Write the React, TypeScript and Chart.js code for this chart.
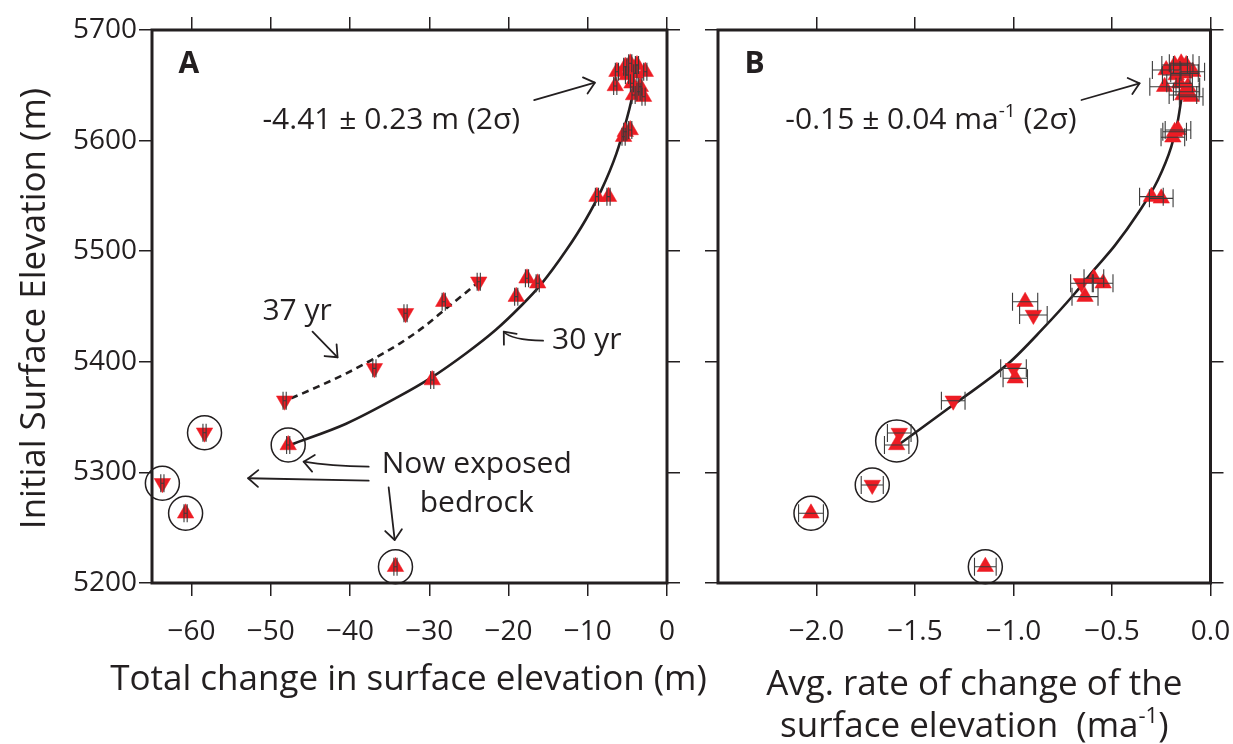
import React, { useEffect, useRef } from "react";
import { Chart, registerables } from "chart.js";

Chart.register(...registerables);

const FONT = "'Open Sans', 'Noto Sans', 'DejaVu Sans', sans-serif";
const INK = "#231F20";
const RED = "#ED1C24";
const BAR = "#3a3a3a";

// ---------- shared y axis ----------
const Y_MIN = 5200;
const Y_MAX = 5700;
const Y_TICKS = [5200, 5300, 5400, 5500, 5600, 5700];
const Y_TICK_LABELS = ["5200", "5300", "5400", "5500", "5600", "5700"];

// ---------- panel A: total change (m) ----------
const A_X_MIN = -65;
const A_X_MAX = 0;
const A_X_TICKS = [-60, -50, -40, -30, -20, -10, 0];
const A_X_TICK_LABELS = ["\u221260", "\u221250", "\u221240", "\u221230", "\u221220", "\u221210", "0"];

// 30 yr interval points (up triangles)
const A_UP_X = [-17.67, -16.32, -19.03, -28.18, -29.63, -47.81, -60.76, -34.27,
  -6.32, -6.53, -5.27, -4.64, -3.79, -4.0, -2.74, -5.05, -4.42, -3.37, -4.22, -2.96, -3.59,
  -5.27, -4.64, -5.48, -8.84, -7.38];
const A_UP_Y = [5475.5, 5471.0, 5458.9, 5454.3, 5383.5, 5324.8, 5263.0, 5214.7,
  5662.3, 5649.4, 5666.8, 5669.9, 5668.4, 5660.8, 5662.3, 5659.3, 5651.8, 5648.7, 5641.2, 5639.7, 5644.2,
  5608.0, 5609.6, 5603.5, 5549.3, 5549.3];
const A_UP_ERR = [0.2, 0.2, 0.2, 0.2, 0.2, 0.2, 0.2, 0.2,
  0.2, 0.2, 0.2, 0.2, 0.2, 0.2, 0.2, 0.2, 0.2, 0.2, 0.2, 0.2, 0.2,
  0.2, 0.2, 0.2, 0.2, 0.2];

// 37 yr interval points (down triangles)
const A_DOWN_X = [-23.76, -33.0, -36.93, -48.26, -58.37, -63.69];
const A_DOWN_Y = [5472.4, 5443.9, 5394.1, 5364.8, 5335.9, 5290.2];
const A_DOWN_ERR = [0.2, 0.2, 0.2, 0.2, 0.2, 0.2];

// bedrock circles
const A_CIRCLE_X = [-47.81, -58.37, -63.69, -60.76, -34.27];
const A_CIRCLE_Y = [5324.8, 5335.9, 5290.2, 5263.0, 5214.7];
const A_CIRCLE_R = [17, 17, 17, 17, 17];

// fitted curves
const A_FIT30_X = [-47.5, -40.5, -34.0, -29.9, -25.3, -21.6, -18.5, -15.9, -12.7, -10.3, -8.3, -6.4, -5.1, -4.5, -4.1];
const A_FIT30_Y = [5325, 5344, 5368, 5385, 5408, 5429, 5450, 5470, 5501, 5528, 5555, 5588, 5619, 5636, 5650];
const A_FIT37_X = [-47.44, -44.06, -40.46, -37.3, -33.69, -30.53, -27.83, -25.57, -23.99];
const A_FIT37_Y = [5367, 5377.5, 5389.6, 5401.6, 5416.7, 5432.5, 5448.5, 5461.5, 5471];

// ---------- panel B: average rate (m/a) ----------
const B_X_MIN = -2.5;
const B_X_MAX = 0;
const B_X_TICKS = [-2.0, -1.5, -1.0, -0.5, 0.0];
const B_X_TICK_LABELS = ["\u22122.0", "\u22121.5", "\u22121.0", "\u22120.5", "0.0"];

const B_UP_X = [-0.592, -0.545, -0.637, -0.941, -0.991, -1.593, -2.028, -1.143,
  -0.225, -0.233, -0.182, -0.149, -0.123, -0.132, -0.090, -0.174, -0.157, -0.115, -0.140, -0.098, -0.123,
  -0.182, -0.165, -0.191, -0.300, -0.250];
const B_UP_Y = [5475.5, 5471.0, 5458.9, 5454.3, 5385.1, 5324.8, 5263.0, 5214.7,
  5663.8, 5648.7, 5668.4, 5669.9, 5668.4, 5660.8, 5662.3, 5659.3, 5651.8, 5648.7, 5641.2, 5639.7, 5644.2,
  5608.0, 5609.6, 5603.0, 5549.3, 5547.8];
const B_UP_ERR = [0.05, 0.05, 0.066, 0.064, 0.062, 0.062, 0.063, 0.055,
  0.07, 0.075, 0.065, 0.06, 0.065, 0.07, 0.06, 0.07, 0.065, 0.06, 0.07, 0.06, 0.065,
  0.06, 0.065, 0.06, 0.06, 0.06];

const B_DOWN_X = [-0.655, -0.899, -1.0, -1.306, -1.58, -1.717];
const B_DOWN_Y = [5471.0, 5442.3, 5394.1, 5364.8, 5335.6, 5288.6];
const B_DOWN_ERR = [0.055, 0.07, 0.065, 0.06, 0.06, 0.056];

const B_CIRCLE_X = [-1.593, -1.717, -2.028, -1.143];
const B_CIRCLE_Y = [5328.4, 5288.6, 5263.0, 5214.7];
const B_CIRCLE_R = [21, 17, 17, 17];

const B_FIT_X = [-1.573, -1.295, -1.025, -0.857, -0.688, -0.587, -0.486, -0.368, -0.267, -0.199, -0.165, -0.149, -0.14];
const B_FIT_Y = [5326.3, 5362.5, 5398.6, 5428.8, 5462, 5484, 5505, 5534.3, 5564.4, 5594.5, 5618.6, 5636.7, 5648];

// ---------- annotations (data units) ----------
type Seg = { t: string; sup?: boolean };
type TextNote = { segs: Seg[]; x: number; y: number; align: CanvasTextAlign; bold?: boolean; size: number };
type ArrowNote = { x: number[]; y: number[] }; // start, [control], end

const A_TEXTS: TextNote[] = [
  { segs: [{ t: "A" }], x: -61.65, y: 5661.4, align: "left", bold: true, size: 30 },
  { segs: [{ t: "-4.41 \u00b1 0.23 m (2\u03c3)" }], x: -51.06, y: 5610.2, align: "left", size: 30 },
  { segs: [{ t: "37 yr" }], x: -51.06, y: 5437.8, align: "left", size: 30 },
  { segs: [{ t: "30 yr" }], x: -14.51, y: 5411.3, align: "left", size: 30 },
  { segs: [{ t: "Now exposed" }], x: -24.02, y: 5299.7, align: "center", size: 30 },
  { segs: [{ t: "bedrock" }], x: -24.02, y: 5264.5, align: "center", size: 30 },
];
const A_ARROWS: ArrowNote[] = [
  { x: [-16.77, -9.11], y: [5636.7, 5652.4] },
  { x: [-44.74, -41.58], y: [5427.2, 5404.1] },
  { x: [-15.64, -19.7, -20.6], y: [5419.1, 5419.7, 5427.2] },
  { x: [-37.65, -42.53, -45.86], y: [5305.2, 5305.8, 5309.7] },
  { x: [-37.65, -52.86], y: [5292.5, 5294.7] },
  { x: [-35.13, -34.37], y: [5286.5, 5238.9] },
];
const B_TEXTS: TextNote[] = [
  { segs: [{ t: "B" }], x: -2.366, y: 5660.9, align: "left", bold: true, size: 30 },
  { segs: [{ t: "-0.15 \u00b1 0.04 ma" }, { t: "-1", sup: true }, { t: " (2\u03c3)" }], x: -2.158, y: 5610.2, align: "left", size: 30 },
];
const B_ARROWS: ArrowNote[] = [
  { x: [-0.655, -0.36], y: [5636.7, 5651.8] },
];

const Y_TITLE = "Initial Surface Elevation (m)";
const A_X_TITLE: Seg[][] = [[{ t: "Total change in surface elevation (m)" }]];
const B_X_TITLE: Seg[][] = [
  [{ t: "Avg. rate of change of the" }],
  [{ t: "surface elevation  (ma" }, { t: "-1", sup: true }, { t: ")" }],
];

const pts = (xs: number[], ys: number[]) => xs.map((x, i) => ({ x, y: ys[i] }));

function drawRich(ctx: CanvasRenderingContext2D, segs: Seg[], x: number, y: number, size: number, align: CanvasTextAlign, bold?: boolean) {
  const weight = bold ? "bold " : "";
  const parts = segs.map((s) => ({ ...s, font: `${weight}${s.sup ? Math.round(size * 0.62) : size}px ${FONT}`, w: 0 }));
  let total = 0;
  parts.forEach((p) => {
    ctx.font = p.font;
    p.w = ctx.measureText(p.t).width;
    total += p.w;
  });
  let cx = align === "center" ? x - total / 2 : align === "right" ? x - total : x;
  ctx.textAlign = "left";
  ctx.textBaseline = "alphabetic";
  parts.forEach((p) => {
    ctx.font = p.font;
    ctx.fillText(p.t, cx, p.sup ? y - size * 0.4 : y);
    cx += p.w;
  });
}

function drawArrow(ctx: CanvasRenderingContext2D, px: number[], py: number[]) {
  ctx.beginPath();
  ctx.moveTo(px[0], py[0]);
  const n = px.length;
  if (n === 3) ctx.quadraticCurveTo(px[1], py[1], px[2], py[2]);
  else ctx.lineTo(px[1], py[1]);
  ctx.stroke();
  const ex = px[n - 1], ey = py[n - 1];
  const ang = Math.atan2(ey - py[n - 2], ex - px[n - 2]);
  const L = 13, h = 0.7;
  ctx.beginPath();
  ctx.moveTo(ex + L * Math.cos(ang + Math.PI - h), ey + L * Math.sin(ang + Math.PI - h));
  ctx.lineTo(ex, ey);
  ctx.lineTo(ex + L * Math.cos(ang + Math.PI + h), ey + L * Math.sin(ang + Math.PI + h));
  ctx.stroke();
}

const errorBars = {
  id: "errorBars",
  afterDatasetsDraw(chart: any) {
    const { ctx, scales } = chart;
    const xs = scales.x, ys = scales.y;
    ctx.save();
    ctx.strokeStyle = BAR;
    ctx.lineWidth = 1.1;
    chart.data.datasets.forEach((ds: any) => {
      if (!ds.errX) return;
      ds.data.forEach((p: any, i: number) => {
        const e = ds.errX[i];
        const xl = xs.getPixelForValue(p.x - e);
        const xr = xs.getPixelForValue(p.x + e);
        const yy = ys.getPixelForValue(p.y);
        const cap = 9;
        ctx.beginPath();
        ctx.moveTo(xl, yy); ctx.lineTo(xr, yy);
        ctx.moveTo(xl, yy - cap); ctx.lineTo(xl, yy + cap);
        ctx.moveTo(xr, yy - cap); ctx.lineTo(xr, yy + cap);
        ctx.stroke();
      });
    });
    ctx.restore();
  },
};

type Spec = {
  xMin: number; xMax: number; xTicks: number[]; xLabels: string[];
  showYLabels: boolean;
  upX: number[]; upY: number[]; upErr: number[];
  downX: number[]; downY: number[]; downErr: number[];
  cX: number[]; cY: number[]; cR: number[];
  fits: { x: number[]; y: number[]; dash: number[] }[];
  texts: TextNote[]; arrows: ArrowNote[];
  padRight: number; yWidth: number;
  xTitle: Seg[][]; xTitleDx: number; xTitleBase: number[];
  yTitle?: string;
};

function noPad(sc: any) {
  sc.paddingLeft = 0;
  sc.paddingRight = 0;
  sc.paddingTop = 0;
  sc.paddingBottom = 0;
}

function makeConfig(s: Spec): any {
  const notes = {
    id: "notes",
    afterDraw(chart: any) {
      const { ctx, chartArea: a, scales } = chart;
      const xs = scales.x, ys = scales.y;
      ctx.save();
      // frame
      ctx.strokeStyle = INK;
      ctx.lineWidth = 3;
      ctx.strokeRect(a.left, a.top, a.right - a.left, a.bottom - a.top);
      ctx.fillStyle = INK;
      s.texts.forEach((t) => {
        drawRich(ctx, t.segs, xs.getPixelForValue(t.x), ys.getPixelForValue(t.y), t.size, t.align, t.bold);
      });
      ctx.lineWidth = 1.8;
      ctx.lineCap = "round";
      ctx.lineJoin = "round";
      s.arrows.forEach((ar) => {
        drawArrow(ctx, ar.x.map((v) => xs.getPixelForValue(v)), ar.y.map((v) => ys.getPixelForValue(v)));
      });
      // axis titles
      const cx = (a.left + a.right) / 2 + s.xTitleDx;
      s.xTitle.forEach((line, i) => drawRich(ctx, line, cx, s.xTitleBase[i], 35, "center"));
      if (s.yTitle) {
        ctx.save();
        ctx.translate(45, (a.top + a.bottom) / 2 + 2);
        ctx.rotate(-Math.PI / 2);
        ctx.font = `35px ${FONT}`;
        ctx.textAlign = "center";
        ctx.textBaseline = "alphabetic";
        ctx.fillText(s.yTitle, 0, 0);
        ctx.restore();
      }
      ctx.restore();
    },
  };

  const gridOpts = { drawOnChartArea: false, drawTicks: true, tickLength: 13, color: INK, lineWidth: 1.5 };
  const tickFont = { family: FONT, size: 28 };
  const setTicks = (vals: number[]) => (scale: any) => {
    scale.ticks = vals.map((v) => ({ value: v }));
  };

  return {
    type: "scatter",
    data: {
      datasets: [
        ...s.fits.map((f) => ({
          data: pts(f.x, f.y),
          showLine: true,
          pointRadius: 0,
          borderColor: INK,
          borderWidth: 2.6,
          borderDash: f.dash,
          cubicInterpolationMode: "monotone",
          fill: false,
          order: 10,
        })),
        {
          data: pts(s.cX, s.cY),
          pointStyle: "circle",
          pointRadius: s.cR,
          backgroundColor: "rgba(0,0,0,0)",
          borderColor: INK,
          borderWidth: 1.5,
          clip: false,
          order: 8,
        },
        {
          data: pts(s.upX, s.upY),
          errX: s.upErr,
          pointStyle: "triangle",
          pointRadius: 9.5,
          backgroundColor: RED,
          borderColor: RED,
          borderWidth: 0.5,
          clip: false,
          order: 2,
        },
        {
          data: pts(s.downX, s.downY),
          errX: s.downErr,
          pointStyle: "triangle",
          rotation: 180,
          pointRadius: 9.5,
          backgroundColor: RED,
          borderColor: RED,
          borderWidth: 0.5,
          clip: false,
          order: 1,
        },
      ],
    },
    options: {
      animation: false,
      responsive: false,
      maintainAspectRatio: false,
      events: [],
      layout: { padding: { left: 0, right: s.padRight, top: 17, bottom: 0 } },
      plugins: { legend: { display: false }, tooltip: { enabled: false }, title: { display: false } },
      scales: {
        x: {
          type: "linear", position: "bottom", min: s.xMin, max: s.xMax,
          afterBuildTicks: setTicks(s.xTicks),
          afterFit: (sc: any) => { sc.height = 161; noPad(sc); },
          grid: gridOpts,
          border: { display: false },
          ticks: {
            font: tickFont, color: INK, padding: 19, maxRotation: 0, autoSkip: false,
            callback: (_v: any, i: number) => s.xLabels[i],
          },
        },
        x2: {
          type: "linear", position: "top", min: s.xMin, max: s.xMax,
          afterBuildTicks: setTicks(s.xTicks),
          afterFit: (sc: any) => { sc.height = 13; noPad(sc); },
          grid: gridOpts,
          border: { display: false },
          ticks: { display: false },
        },
        y: {
          type: "linear", position: "left", min: Y_MIN, max: Y_MAX,
          afterBuildTicks: setTicks(Y_TICKS),
          afterFit: (sc: any) => { sc.width = s.yWidth; noPad(sc); },
          grid: gridOpts,
          border: { display: false },
          ticks: {
            display: s.showYLabels,
            font: tickFont, color: INK, padding: 2,
            callback: (_v: any, i: number) => Y_TICK_LABELS[i],
          },
        },
        y2: {
          type: "linear", position: "right", min: Y_MIN, max: Y_MAX,
          afterBuildTicks: setTicks(Y_TICKS),
          afterFit: (sc: any) => { sc.width = 13; noPad(sc); },
          grid: gridOpts,
          border: { display: false },
          ticks: { display: false },
        },
      },
    },
    plugins: [errorBars, notes],
  };
}

const SPEC_A: Spec = {
  xMin: A_X_MIN, xMax: A_X_MAX, xTicks: A_X_TICKS, xLabels: A_X_TICK_LABELS,
  showYLabels: true,
  upX: A_UP_X, upY: A_UP_Y, upErr: A_UP_ERR,
  downX: A_DOWN_X, downY: A_DOWN_Y, downErr: A_DOWN_ERR,
  cX: A_CIRCLE_X, cY: A_CIRCLE_Y, cR: A_CIRCLE_R,
  fits: [
    { x: A_FIT30_X, y: A_FIT30_Y, dash: [] },
    { x: A_FIT37_X, y: A_FIT37_Y, dash: [7, 5] },
  ],
  texts: A_TEXTS, arrows: A_ARROWS,
  padRight: 35, yWidth: 152,
  xTitle: A_X_TITLE, xTitleDx: -1, xTitleBase: [690],
  yTitle: Y_TITLE,
};

const SPEC_B: Spec = {
  xMin: B_X_MIN, xMax: B_X_MAX, xTicks: B_X_TICKS, xLabels: B_X_TICK_LABELS,
  showYLabels: false,
  upX: B_UP_X, upY: B_UP_Y, upErr: B_UP_ERR,
  downX: B_DOWN_X, downY: B_DOWN_Y, downErr: B_DOWN_ERR,
  cX: B_CIRCLE_X, cY: B_CIRCLE_Y, cR: B_CIRCLE_R,
  fits: [{ x: B_FIT_X, y: B_FIT_Y, dash: [] }],
  texts: B_TEXTS, arrows: B_ARROWS,
  padRight: 7, yWidth: 28,
  xTitle: B_X_TITLE, xTitleDx: 10, xTitleBase: [695, 737],
};

export default function App() {
  const aRef = useRef<HTMLCanvasElement>(null);
  const bRef = useRef<HTMLCanvasElement>(null);
  useEffect(() => {
    document.body.style.margin = "0";
    const ca = new Chart(aRef.current as HTMLCanvasElement, makeConfig(SPEC_A));
    const cb = new Chart(bRef.current as HTMLCanvasElement, makeConfig(SPEC_B));
    return () => {
      ca.destroy();
      cb.destroy();
    };
  }, []);
  return (
    <div style={{ position: "relative", width: 1233, height: 744, background: "#fff", overflow: "hidden" }}>
      <canvas ref={aRef} width={715} height={744} style={{ position: "absolute", left: 0, top: 0, width: 715, height: 744 }} />
      <canvas ref={bRef} width={543} height={744} style={{ position: "absolute", left: 690, top: 0, width: 543, height: 744 }} />
    </div>
  );
}
